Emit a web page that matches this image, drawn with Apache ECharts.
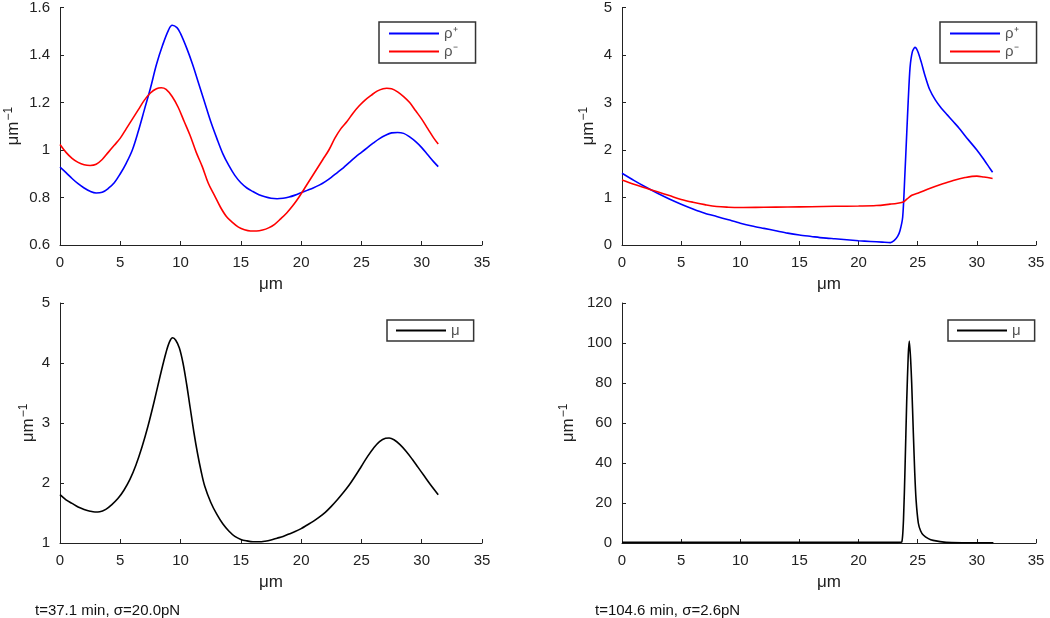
<!DOCTYPE html>
<html><head><meta charset="utf-8">
<script src="https://cdn.jsdelivr.net/npm/echarts@6/dist/echarts.min.js"></script>
<style>html,body{margin:0;padding:0;background:#fff}#c{width:1050px;height:618px}</style>
</head><body><div id="c"></div>
<script>
// Panel A (top-left): rho+ and rho- , t=37.1 min
const rhoPlusA = [[0,0.928],[0.5,0.905],[1,0.88],[1.5,0.858],[2,0.84],[2.5,0.826],[3,0.819],[3.5,0.822],[4,0.838],[4.5,0.862],[5,0.9],[5.5,0.945],[6,1.0],[6.5,1.08],[7,1.17],[7.5,1.26],[8,1.36],[8.5,1.44],[9,1.505],[9.3,1.525],[9.7,1.515],[10,1.49],[10.5,1.43],[11,1.36],[11.5,1.28],[12,1.2],[12.5,1.12],[13,1.05],[13.5,0.985],[14,0.935],[14.5,0.893],[15,0.862],[15.5,0.84],[16,0.825],[16.5,0.812],[17,0.803],[17.5,0.797],[18,0.795],[18.5,0.797],[19,0.802],[19.5,0.81],[20,0.82],[20.5,0.83],[21,0.84],[21.5,0.852],[22,0.867],[22.5,0.885],[23,0.905],[23.5,0.925],[24,0.948],[24.5,0.97],[25,0.99],[25.5,1.01],[26,1.03],[26.5,1.048],[27,1.062],[27.5,1.072],[28,1.074],[28.5,1.07],[29,1.055],[29.5,1.035],[30,1.01],[30.5,0.98],[31,0.95],[31.37,0.93]];
const rhoMinusA = [[0,1.023],[0.5,0.99],[1,0.965],[1.5,0.948],[2,0.938],[2.5,0.935],[3,0.94],[3.5,0.96],[4,0.99],[4.5,1.02],[5,1.05],[5.5,1.09],[6,1.13],[6.5,1.17],[7,1.21],[7.5,1.24],[8,1.258],[8.4,1.262],[8.8,1.255],[9.3,1.225],[9.8,1.18],[10.3,1.12],[10.8,1.06],[11.3,0.99],[11.8,0.93],[12.3,0.86],[12.8,0.81],[13.3,0.76],[13.8,0.72],[14.3,0.695],[14.8,0.675],[15.3,0.664],[15.8,0.659],[16.3,0.659],[16.8,0.663],[17.3,0.672],[17.8,0.687],[18.3,0.71],[18.8,0.735],[19.3,0.765],[19.8,0.8],[20.3,0.84],[20.8,0.88],[21.3,0.92],[21.8,0.96],[22.3,1.0],[22.8,1.05],[23.3,1.09],[23.8,1.12],[24.3,1.155],[24.8,1.185],[25.3,1.21],[25.8,1.23],[26.3,1.248],[26.8,1.258],[27.1,1.26],[27.5,1.258],[28,1.245],[28.5,1.225],[29,1.2],[29.5,1.165],[30,1.13],[30.5,1.09],[31,1.05],[31.37,1.025]];
// Panel B (top-right): t=104.6 min
const rhoPlusB = [[0,1.51],[1,1.36],[2,1.22],[3,1.09],[4,0.97],[5,0.86],[6,0.76],[7,0.67],[8,0.6],[9,0.53],[10,0.46],[11,0.4],[12,0.35],[13,0.3],[14,0.25],[15,0.21],[16,0.18],[17,0.15],[18,0.13],[19,0.11],[20,0.09],[21,0.075],[22,0.06],[22.7,0.05],[23.0,0.09],[23.3,0.18],[23.5,0.3],[23.73,0.59],[23.9,1.4],[24.07,2.34],[24.2,3.05],[24.35,3.73],[24.55,4.07],[24.77,4.16],[25.0,4.08],[25.3,3.85],[25.6,3.58],[26.0,3.28],[26.5,3.05],[27,2.88],[27.5,2.74],[28,2.6],[28.5,2.46],[29,2.3],[29.5,2.15],[30,2.0],[30.5,1.83],[31,1.65],[31.33,1.53]];
const rhoMinusB = [[0,1.37],[1,1.28],[2,1.2],[3,1.12],[4,1.04],[5,0.96],[6,0.9],[7,0.85],[8,0.81],[9,0.795],[10,0.79],[12,0.795],[14,0.8],[16,0.805],[18,0.815],[20,0.82],[21.5,0.83],[22.66,0.86],[23.3,0.88],[23.78,0.905],[24.1,0.97],[24.5,1.046],[25,1.09],[26,1.19],[27,1.28],[28,1.36],[29,1.42],[30,1.45],[30.6,1.43],[31.33,1.4]];
// Panel C (bottom-left): mu
const muA = [[0,1.805],[0.5,1.72],[1,1.66],[1.5,1.6],[2,1.56],[2.5,1.53],[2.9,1.517],[3.3,1.52],[3.8,1.56],[4.3,1.64],[4.8,1.74],[5.3,1.88],[5.8,2.06],[6.3,2.3],[6.8,2.6],[7.3,2.95],[7.8,3.35],[8.3,3.78],[8.8,4.18],[9.1,4.36],[9.34,4.42],[9.6,4.38],[9.9,4.25],[10.2,4.0],[10.5,3.65],[10.8,3.25],[11.1,2.85],[11.4,2.5],[11.7,2.2],[12.0,1.95],[12.5,1.68],[13.0,1.48],[13.5,1.32],[14,1.2],[14.5,1.11],[15,1.06],[15.5,1.035],[16,1.02],[16.5,1.02],[17,1.03],[17.5,1.05],[18,1.08],[18.5,1.11],[19,1.15],[19.5,1.19],[20,1.24],[20.5,1.3],[21,1.36],[21.5,1.43],[22,1.51],[22.5,1.61],[23,1.72],[23.5,1.84],[24,1.97],[24.5,2.12],[25,2.28],[25.5,2.44],[26,2.58],[26.5,2.69],[27,2.745],[27.3,2.75],[27.7,2.72],[28.2,2.64],[28.7,2.53],[29.2,2.4],[29.7,2.26],[30.2,2.12],[30.7,1.98],[31.37,1.805]];
// Panel D (bottom-right): mu
const muB = [[0,0.3],[5,0.3],[10,0.3],[15,0.3],[20,0.3],[23.3,0.3],[23.65,0.5],[23.8,12],[23.93,38],[24.07,71],[24.2,94],[24.29,101],[24.4,92],[24.49,80],[24.63,55],[24.75,35],[24.86,21.7],[25.05,10],[25.25,6],[25.47,4],[25.9,2.2],[26.3,1.3],[27.4,0.3],[29,0.15],[31.4,0.1]];

const xTicks = [0,5,10,15,20,25,30,35];
const captionA = 't=37.1 min, σ=20.0pN';
const captionB = 't=104.6 min, σ=2.6pN';

const font = 'Liberation Sans, Arial, sans-serif';
const axisCol = '#222';
function xAx(gi){
  return {gridIndex:gi,type:'value',min:xTicks[0],max:xTicks[xTicks.length-1],interval:5,
    name:'μm',nameLocation:'middle',nameGap:31,nameTextStyle:{fontSize:17,color:'#222',fontFamily:font},
    axisLine:{lineStyle:{color:axisCol,width:1}},axisTick:{inside:true,length:4,lineStyle:{color:axisCol}},
    axisLabel:{margin:10,fontSize:15,color:'#222',fontFamily:font},splitLine:{show:false}};
}
function yAx(gi,min,max,iv,gap){
  return {gridIndex:gi,type:'value',min:min,max:max,interval:iv,
    name:'{a|μm}{b|−1}',nameLocation:'middle',nameRotate:90,nameGap:gap,
    nameTextStyle:{color:'#222',fontFamily:font,rich:{a:{fontSize:17,color:'#222',fontFamily:font},b:{fontSize:12,color:'#222',fontFamily:font,padding:[0,0,8,1]}}},
    axisLine:{show:true,lineStyle:{color:axisCol,width:1}},axisTick:{show:true,inside:true,length:4,lineStyle:{color:axisCol}},
    axisLabel:{margin:10,fontSize:15,color:'#222',fontFamily:font},splitLine:{show:false}};
}
function ser(name,data,gi,color,sm){
  return {name:name,type:'line',xAxisIndex:gi,yAxisIndex:gi,data:data,symbol:'none',smooth:sm,
    lineStyle:{color:color,width:1.6},itemStyle:{color:color},z:3};
}
function leg(names,left,top){
  return {data:names,orient:'vertical',left:left,top:top,icon:'rect',itemWidth:50,itemHeight:2,itemGap:3,
    borderColor:'#333',borderWidth:1.5,padding:[4,18,4,10],selectedMode:false,
    textStyle:{fontSize:15,color:'#555',fontFamily:font}};
}
const chart = echarts.init(document.getElementById('c'));
chart.setOption({
  animation:false,
  backgroundColor:'#fff',
  grid:[
    {left:60,top:6,width:422,height:239},
    {left:622,top:6,width:414,height:239},
    {left:60,top:303,width:422,height:240},
    {left:622,top:303,width:414,height:240}
  ],
  xAxis:[xAx(0),xAx(1),xAx(2),xAx(3)],
  yAxis:[yAx(0,0.6,1.6,0.2,37),yAx(1,0,5,1,24),yAx(2,1,5,1,22),yAx(3,0,120,20,44)],
  legend:[
    leg(['ρ⁺','ρ⁻'],379,22),
    leg(['ρ⁺','ρ⁻'],940,22),
    Object.assign(leg(['μ'],387,320),{padding:[3,14,3,9]}),
    Object.assign(leg(['μ'],948,320),{padding:[3,14,3,9]})
  ],
  series:[
    ser('ρ⁺',rhoPlusA,0,'#0000ff',0.35),
    ser('ρ⁻',rhoMinusA,0,'#ff0000',0.35),
    ser('ρ⁺',rhoPlusB,1,'#0000ff',0.25),
    ser('ρ⁻',rhoMinusB,1,'#ff0000',0.35),
    ser('μ',muA,2,'#000000',0.35),
    ser('μ',muB,3,'#000000',0.2)
  ],
  graphic:[
    {type:'text',left:35,top:603,style:{text:captionA,fontSize:15,fill:'#111',fontFamily:font}},
    {type:'text',left:595,top:603,style:{text:captionB,fontSize:15,fill:'#111',fontFamily:font}}
  ]
});
</script></body></html>
